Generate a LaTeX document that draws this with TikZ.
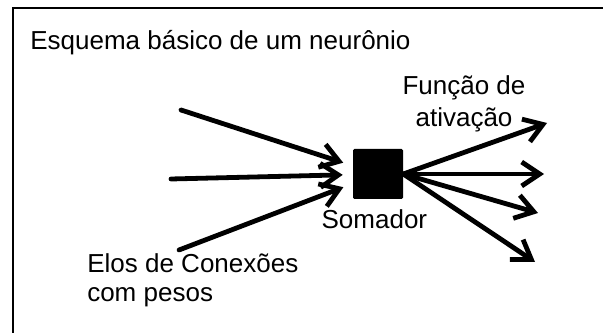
\documentclass[tikz,border=0pt]{standalone}
\usepackage{fontspec}
\setmainfont{Liberation Sans}
\usetikzlibrary{arrows.meta}

\begin{document}
\begin{tikzpicture}[
    every node/.style={font=\fontsize{18.5}{22.8}\selectfont, inner sep=0pt},
    seta/.style={line width=0.12cm, line cap=round,
      -{Straight Barb[length=0.45cm, width=0.6cm]}},
  ]
  \useasboundingbox (0,0) rectangle (15.075,8.325);
  %% Draw the frame
  \draw[line width=0.05cm] (0.3175,0) |- (15.075,8.12);
  %% Draw the nodes
  \node[anchor=base west] (titulo) at (0.75,7.075) {Esquema básico de um neurônio};
  \node[fill, rounded corners=1pt, minimum size=1.25cm] (soma) at (9.45,3.975) {};
  \node[anchor=base] (somador) at (9.36,2.6) {Somador};
  \node[anchor=base, align=center] (ativacao) at (11.6,5.15) {Função de\\ativação};
  \node[anchor=base west, align=left,
    font=\fontsize{18.5}{20.8}\selectfont] (elos) at (2.175,0.775) {Elos de Conexões\\com pesos};
  %% Draw the loose ends
  \coordinate (in1) at (4.525,5.575);
  \coordinate (in2) at (4.275,3.85);
  \coordinate (in3) at (4.475,2.075);
  \coordinate (out1) at (13.675,5.25);
  \coordinate (out2) at (13.6,3.975);
  \coordinate (out3) at (13.45,3.0);
  \coordinate (out4) at (13.375,1.775);
  %% Draw the edges
  \begin{scope}[every path/.style={seta}]
    \draw[shorten >=0.25cm] (in1) -- (soma);
    \draw[shorten >=0.25cm] (in2) -- (soma);
    \draw[shorten >=0.25cm] (in3) -- (soma);
    \draw (soma.east) -- (out1);
    \draw (soma.east) -- (out2);
    \draw (soma.east) -- (out3);
    \draw (soma.east) -- (out4);
  \end{scope}
\end{tikzpicture}
\end{document}
